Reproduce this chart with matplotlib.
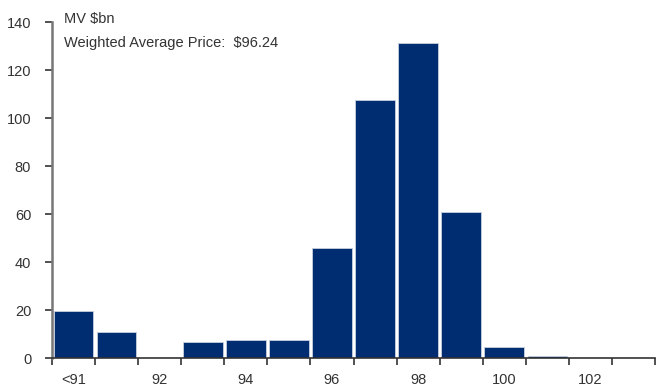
import matplotlib
matplotlib.use("Agg")
import matplotlib.pyplot as plt
import numpy as np

plt.rcParams['font.family'] = ['Liberation Sans', 'DejaVu Sans']

# Market value ($bn) by price bucket
buckets = ["<91", "91", "92", "93", "94", "95", "96", "97", "98", "99", "100", "101", "102", "103"]
mv_bn = [19.5, 11, 0, 6.5, 7.5, 7.5, 46, 107.5, 131.5, 61, 4.4, 0.7, 0, 0]
shown_labels = ["<91", "92", "94", "96", "98", "100", "102"]

bar_color = "#002D72"
text_color = "#333333"
fs = 10.5

fig = plt.figure(figsize=(6.57, 3.92), dpi=100)
ax = fig.add_axes([0.0791, 0.0867, 0.918, 0.856])

x = np.arange(len(buckets))
ax.bar(x, mv_bn, width=0.92, color=bar_color, edgecolor="#c8d0e0", linewidth=0.6, zorder=2)

ax.set_xlim(-0.5, len(buckets) - 0.5)
ax.set_ylim(0, 140)
ax.set_yticks(np.arange(0, 141, 20))

# category labels on every other bucket, ticks between buckets
ax.set_xticks(x)
ax.set_xticklabels([b if b in shown_labels else "" for b in buckets])
ax.tick_params(axis="x", which="major", length=0, pad=11, labelsize=fs, labelcolor=text_color)
ax.set_xticks(np.arange(-0.5, len(buckets), 1.0), minor=True)
ax.tick_params(axis="x", which="minor", length=5, width=1.2, color="#333333", direction="out")
ax.tick_params(axis="y", length=5, width=1.2, color="#333333", pad=10, labelsize=fs,
               labelcolor=text_color)

for side in ("top", "right"):
    ax.spines[side].set_visible(False)
ax.spines["left"].set_color("#777777")
ax.spines["left"].set_linewidth(1.8)
ax.spines["bottom"].set_color("#333333")
ax.spines["bottom"].set_linewidth(1.2)

fig.text(64 / 657, 1 - 19 / 392, "MV $bn", fontsize=fs, color=text_color, va="center", ha="left")
fig.text(64 / 657, 1 - 43 / 392, "Weighted Average Price:  $96.24", fontsize=fs,
         color=text_color, va="center", ha="left")

fig.savefig("out.png", dpi=100)
